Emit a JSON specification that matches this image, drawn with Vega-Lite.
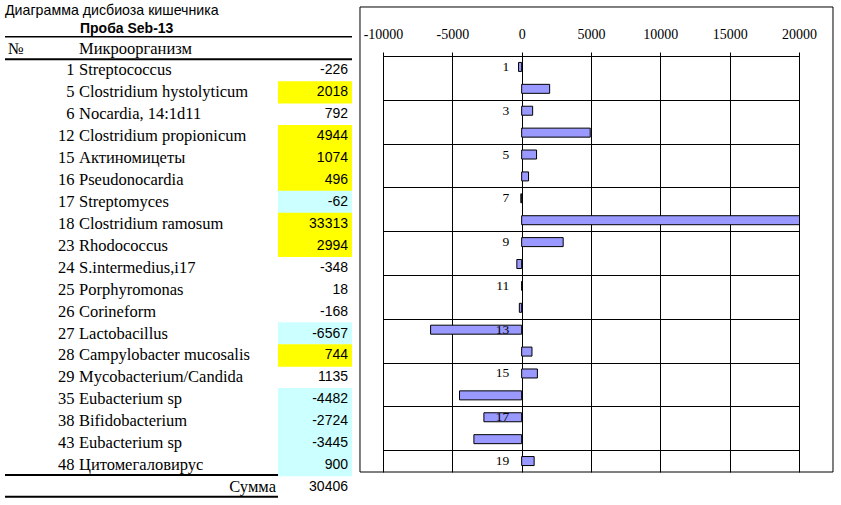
{
  "$schema": "https://vega.github.io/schema/vega-lite/v6.json",
  "width": 416,
  "height": 416,
  "padding": {"left": 383, "top": 56, "right": 42, "bottom": 33},
  "autosize": {"type": "none"},
  "background": "white",
  "config": {"view": {"stroke": null}},
  "data": {"values": [
    {"pos": 1, "num": 1, "name": "Streptococcus", "value": -226, "hl": "none"},
    {"pos": 2, "num": 5, "name": "Clostridium hystolyticum", "value": 2018, "hl": "yellow"},
    {"pos": 3, "num": 6, "name": "Nocardia, 14:1d11", "value": 792, "hl": "none"},
    {"pos": 4, "num": 12, "name": "Clostridium propionicum", "value": 4944, "hl": "yellow"},
    {"pos": 5, "num": 15, "name": "Актиномицеты", "value": 1074, "hl": "yellow"},
    {"pos": 6, "num": 16, "name": "Pseudonocardia", "value": 496, "hl": "yellow"},
    {"pos": 7, "num": 17, "name": "Streptomyces", "value": -62, "hl": "blue"},
    {"pos": 8, "num": 18, "name": "Clostridium ramosum", "value": 33313, "hl": "yellow"},
    {"pos": 9, "num": 23, "name": "Rhodococcus", "value": 2994, "hl": "yellow"},
    {"pos": 10, "num": 24, "name": "S.intermedius,i17", "value": -348, "hl": "none"},
    {"pos": 11, "num": 25, "name": "Porphyromonas", "value": 18, "hl": "none"},
    {"pos": 12, "num": 26, "name": "Corineform", "value": -168, "hl": "none"},
    {"pos": 13, "num": 27, "name": "Lactobacillus", "value": -6567, "hl": "blue"},
    {"pos": 14, "num": 28, "name": "Campylobacter mucosalis", "value": 744, "hl": "yellow"},
    {"pos": 15, "num": 29, "name": "Mycobacterium/Candida", "value": 1135, "hl": "none"},
    {"pos": 16, "num": 35, "name": "Eubacterium sp", "value": -4482, "hl": "blue"},
    {"pos": 17, "num": 38, "name": "Bifidobacterium", "value": -2724, "hl": "blue"},
    {"pos": 18, "num": 43, "name": "Eubacterium sp", "value": -3445, "hl": "blue"},
    {"pos": 19, "num": 48, "name": "Цитомегаловирус", "value": 900, "hl": "blue"}
  ]},
  "layer": [
    {
      "layer": [
        {
          "transform": [{"filter": "datum.hl !== 'none'"}],
          "mark": {"type": "bar", "height": 22.4},
          "encoding": {
            "x": {"datum": 278, "type": "quantitative", "scale": {"domain": [0, 841], "range": [-383, 458], "nice": false, "zero": false, "padding": 0}, "axis": null},
            "x2": {"datum": 352},
            "y": {"field": "pos", "type": "quantitative", "scale": {"domain": [0.5, 19.5], "range": [3.54, 420], "nice": false, "zero": false, "padding": 0}, "axis": null},
            "color": {"field": "hl", "type": "nominal", "scale": {"domain": ["yellow", "blue"], "range": ["#FFFF00", "#CCFFFF"]}, "legend": null}
          }
        },
        {
          "mark": {"type": "text", "align": "right", "baseline": "middle", "font": "Liberation Serif", "fontSize": 16.5, "color": "black"},
          "encoding": {
            "x": {"datum": 74.5, "type": "quantitative"},
            "y": {"field": "pos", "type": "quantitative"},
            "text": {"field": "num", "type": "nominal"}
          }
        },
        {
          "mark": {"type": "text", "align": "left", "baseline": "middle", "font": "Liberation Serif", "fontSize": 16.5, "color": "black"},
          "encoding": {
            "x": {"datum": 79, "type": "quantitative"},
            "y": {"field": "pos", "type": "quantitative"},
            "text": {"field": "name", "type": "nominal"}
          }
        },
        {
          "mark": {"type": "text", "align": "right", "baseline": "middle", "font": "Liberation Sans", "fontSize": 14, "color": "black"},
          "encoding": {
            "x": {"datum": 348, "type": "quantitative"},
            "y": {"field": "pos", "type": "quantitative"},
            "text": {"field": "value", "type": "nominal"}
          }
        },
        {
          "data": {"values": [{"t": "Диаграмма дисбиоза кишечника"}]},
          "mark": {"type": "text", "align": "left", "baseline": "middle", "font": "Liberation Sans", "fontSize": 14.2, "color": "black"},
          "encoding": {
            "x": {"datum": 5, "type": "quantitative"},
            "y": {"datum": -1.71, "type": "quantitative"},
            "text": {"field": "t", "type": "nominal"}
          }
        },
        {
          "data": {"values": [{"t": "Проба Seb-13"}]},
          "mark": {"type": "text", "align": "left", "baseline": "middle", "font": "Liberation Sans", "fontSize": 14, "fontWeight": "bold", "color": "black"},
          "encoding": {
            "x": {"datum": 80, "type": "quantitative"},
            "y": {"datum": -0.89, "type": "quantitative"},
            "text": {"field": "t", "type": "nominal"}
          }
        },
        {
          "data": {"values": [{"t": "№"}]},
          "mark": {"type": "text", "align": "left", "baseline": "middle", "font": "Liberation Serif", "fontSize": 16.5, "color": "black"},
          "encoding": {
            "x": {"datum": 8, "type": "quantitative"},
            "y": {"datum": 0, "type": "quantitative"},
            "text": {"field": "t", "type": "nominal"}
          }
        },
        {
          "data": {"values": [{"t": "Микроорганизм"}]},
          "mark": {"type": "text", "align": "left", "baseline": "middle", "font": "Liberation Serif", "fontSize": 16.5, "color": "black"},
          "encoding": {
            "x": {"datum": 79, "type": "quantitative"},
            "y": {"datum": 0, "type": "quantitative"},
            "text": {"field": "t", "type": "nominal"}
          }
        },
        {
          "data": {"values": [{"t": "Сумма"}]},
          "mark": {"type": "text", "align": "right", "baseline": "middle", "font": "Liberation Serif", "fontSize": 16.5, "color": "black"},
          "encoding": {
            "x": {"datum": 276, "type": "quantitative"},
            "y": {"datum": 20, "type": "quantitative"},
            "text": {"field": "t", "type": "nominal"}
          }
        },
        {
          "data": {"values": [{"t": "30406"}]},
          "mark": {"type": "text", "align": "right", "baseline": "middle", "font": "Liberation Sans", "fontSize": 14, "color": "black"},
          "encoding": {
            "x": {"datum": 348, "type": "quantitative"},
            "y": {"datum": 20, "type": "quantitative"},
            "text": {"field": "t", "type": "nominal"}
          }
        },
        {
          "data": {"values": [{}]},
          "mark": {"type": "rule", "color": "black", "strokeWidth": 1.5},
          "encoding": {
            "x": {"datum": 5, "type": "quantitative"},
            "x2": {"datum": 352},
            "y": {"datum": -0.54, "type": "quantitative"}
          }
        },
        {
          "data": {"values": [{}]},
          "mark": {"type": "rule", "color": "black", "strokeWidth": 2},
          "encoding": {
            "x": {"datum": 5, "type": "quantitative"},
            "x2": {"datum": 352},
            "y": {"datum": 0.49, "type": "quantitative"}
          }
        },
        {
          "data": {"values": [{}]},
          "mark": {"type": "rule", "color": "black", "strokeWidth": 2},
          "encoding": {
            "x": {"datum": 5, "type": "quantitative"},
            "x2": {"datum": 278},
            "y": {"datum": 19.45, "type": "quantitative"}
          }
        },
        {
          "data": {"values": [{}]},
          "mark": {"type": "rule", "color": "black", "strokeWidth": 2},
          "encoding": {
            "x": {"datum": 5, "type": "quantitative"},
            "x2": {"datum": 278},
            "y": {"datum": 20.45, "type": "quantitative"}
          }
        }
      ]
    },
    {
      "layer": [
        {
          "mark": {"type": "bar", "height": 9, "fill": "#9999FF", "stroke": "black", "strokeWidth": 1, "clip": true},
          "encoding": {
            "x": {
              "field": "value", "type": "quantitative",
              "scale": {"domain": [-10000, 20000], "nice": false, "zero": false, "padding": 0},
              "axis": {
                "orient": "top",
                "values": [-10000, -5000, 0, 5000, 10000, 15000, 20000],
                "grid": true, "gridColor": "black", "gridOpacity": 1, "gridWidth": 1,
                "domain": true, "domainColor": "black",
                "ticks": true, "tickColor": "black", "tickSize": 4,
                "labelPadding": 13.5, "labelBaseline": "alphabetic",
                "labelFont": "Liberation Serif", "labelFontSize": 14, "labelColor": "black",
                "labelExpr": "toString(datum.value)",
                "labelFlush": false, "labelOverlap": false,
                "title": null
              }
            },
            "x2": {"datum": 0},
            "y": {
              "field": "pos", "type": "quantitative",
              "scale": {"domain": [0.5, 19.5], "range": [0, 416], "nice": false, "zero": false, "padding": 0},
              "axis": {
                "values": [0.5, 1.5, 2.5, 3.5, 4.5, 5.5, 6.5, 7.5, 8.5, 9.5, 10.5, 11.5, 12.5, 13.5, 14.5, 15.5, 16.5, 17.5, 18.5, 19.5],
                "grid": true, "gridColor": "black", "gridOpacity": 1, "gridWidth": 1,
                "labels": false, "ticks": false, "domain": false, "title": null
              }
            }
          }
        },
        {
          "transform": [{"filter": "datum.pos % 2 == 1"}],
          "mark": {"type": "text", "align": "right", "baseline": "middle", "dx": -12.5, "font": "Liberation Serif", "fontSize": 13.5, "color": "black"},
          "encoding": {
            "x": {"datum": 0, "type": "quantitative"},
            "y": {"field": "pos", "type": "quantitative"},
            "text": {"field": "pos", "type": "nominal"}
          }
        },
        {
          "data": {"values": [{}]},
          "mark": {"type": "rect", "filled": false, "stroke": "black", "strokeWidth": 1},
          "encoding": {
            "x": {"datum": -11659, "type": "quantitative"},
            "x2": {"datum": 22451},
            "y": {"datum": -1.738, "type": "quantitative"},
            "y2": {"datum": 19.5}
          }
        }
      ]
    }
  ],
  "resolve": {
    "scale": {"x": "independent", "y": "independent"},
    "axis": {"x": "independent", "y": "independent"}
  }
}
